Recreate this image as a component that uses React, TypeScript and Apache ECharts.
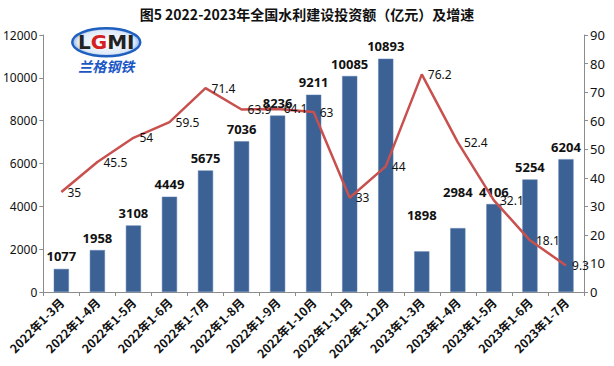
import React, { useEffect, useRef } from "react";
import * as echarts from "echarts";

const categories = [
  "2022年1-3月", "2022年1-4月", "2022年1-5月", "2022年1-6月", "2022年1-7月",
  "2022年1-8月", "2022年1-9月", "2022年1-10月", "2022年1-11月", "2022年1-12月",
  "2023年1-3月", "2023年1-4月", "2023年1-5月", "2023年1-6月", "2023年1-7月",
];
const investment = [1077, 1958, 3108, 4449, 5675, 7036, 8236, 9211, 10085, 10893, 1898, 2984, 4106, 5254, 6204];
const growth = [35, 45.5, 54, 59.5, 71.4, 63.9, 64.1, 63, 33, 44, 76.2, 52.4, 32.1, 18.1, 9.3];
const leftTicks = { min: 0, max: 12000, interval: 2000 };
const rightTicks = { min: 0, max: 90, interval: 10 };
const title = "图5 2022-2023年全国水利建设投资额（亿元）及增速";

const NUM_FONT = '"Noto Sans", "Noto Sans CJK SC", sans-serif';
const CJK_FONT = '"Noto Sans CJK SC", "Noto Sans", sans-serif';

export default function App() {
  const ref = useRef<HTMLDivElement>(null);
  useEffect(() => {
    if (!ref.current) return;
    const chart = echarts.init(ref.current, undefined, { renderer: "svg" });
    const raisedLabels = new Set([10, 11]);
    const barData = investment.map((v, i) =>
      raisedLabels.has(i) ? { value: v, label: { distance: 30 } } : v
    );
    const axisLine = { show: true, lineStyle: { color: "#8c8c8c", width: 1 } };
    chart.setOption({
      animation: false,
      backgroundColor: "#ffffff",
      title: {
        text: title,
        left: "center",
        top: 2,
        textStyle: { fontFamily: CJK_FONT, fontSize: 14, fontWeight: "bold", color: "#111" },
      },
      grid: { left: 40, right: 30, top: 35, bottom: 74 },
      xAxis: {
        type: "category",
        data: categories,
        axisLine,
        axisTick: { show: true, alignWithLabel: false, length: 4, lineStyle: { color: "#8c8c8c" } },
        axisLabel: {
          rotate: 45,
          interval: 0,
          margin: 8,
          fontFamily: CJK_FONT,
          fontSize: 12,
          fontWeight: "bold",
          color: "#111",
        },
      },
      yAxis: [
        {
          type: "value",
          ...leftTicks,
          splitLine: { show: false },
          axisLine,
          axisTick: { show: true, length: 4, lineStyle: { color: "#8c8c8c" } },
          axisLabel: {
            fontFamily: NUM_FONT,
            fontSize: 12,
            color: "#111",
            margin: 6,
            formatter: (v: number) => String(v),
          },
        },
        {
          type: "value",
          ...rightTicks,
          position: "right",
          splitLine: { show: false },
          axisLine,
          axisTick: { show: true, length: 4, lineStyle: { color: "#8c8c8c" } },
          axisLabel: { fontFamily: NUM_FONT, fontSize: 13, color: "#111", margin: 6 },
        },
      ],
      graphic: [
        {
          type: "group",
          left: 71,
          top: 27,
          children: [
            {
              type: "ellipse",
              shape: { cx: 35, cy: 15, rx: 34, ry: 14 },
              style: {
                fill: new echarts.graphic.RadialGradient(0.5, 0.5, 0.6, [
                  { offset: 0, color: "#ffffff" },
                  { offset: 0.7, color: "#dfeaf8" },
                  { offset: 1, color: "#2d6cc8" },
                ]),
                stroke: "#1f5fbf",
                lineWidth: 2.5,
              },
            },
            {
              type: "text",
              x: 35,
              y: 15,
              style: {
                text: "{a|L}{b|G}{a|M}{a|I}",
                align: "center",
                verticalAlign: "middle",
                rich: {
                  a: { fontFamily: "DejaVu Sans", fontSize: 20, fontWeight: "bold", fill: "#222" },
                  b: { fontFamily: "DejaVu Sans", fontSize: 20, fontWeight: "bold", fill: "#d42020" },
                },
              },
            },
            {
              type: "text",
              x: 35,
              y: 39,
              style: {
                text: "兰格钢铁",
                align: "center",
                verticalAlign: "middle",
                fontFamily: CJK_FONT,
                fontSize: 14,
                fontWeight: "bold",
                fontStyle: "italic",
                fill: "#1a56c4",
              },
            },
          ],
        },
      ],
      series: [
        {
          type: "bar",
          data: barData,
          yAxisIndex: 0,
          barWidth: "42%",
          itemStyle: { color: "#3b6195", borderColor: "#5a7fb0", borderWidth: 0.5 },
          label: {
            show: true,
            position: "top",
            distance: 6,
            fontFamily: NUM_FONT,
            fontSize: 13,
            fontWeight: "bold",
            color: "#111",
          },
          z: 2,
        },
        {
          type: "line",
          data: growth,
          yAxisIndex: 1,
          symbol: "circle",
          symbolSize: 0.1,
          lineStyle: { color: "#c8504e", width: 2.5 },
          itemStyle: { color: "#c8504e" },
          label: {
            show: true,
            position: "right",
            distance: 6,
            fontFamily: NUM_FONT,
            fontSize: 12,
            color: "#111",
          },
          z: 3,
        },
      ],
    });
    return () => chart.dispose();
  }, []);
  return (
    <div
      ref={ref}
      style={{ position: "fixed", left: 0, top: 0, width: 614, height: 366, background: "#fff" }}
    />
  );
}
